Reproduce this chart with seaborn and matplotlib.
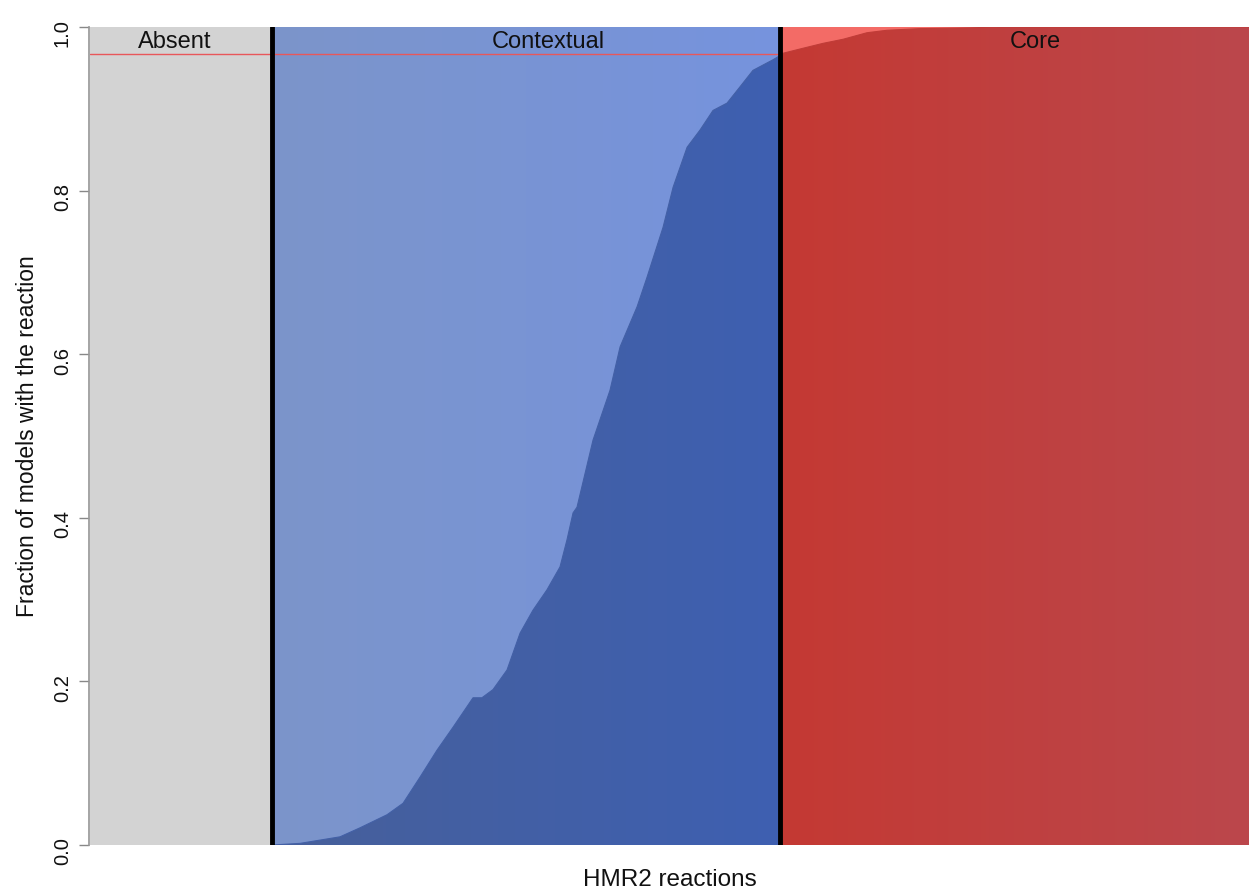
import numpy as np
import pandas as pd
import seaborn as sns
import matplotlib.pyplot as plt
from matplotlib.colors import LinearSegmentedColormap
from matplotlib.patches import Polygon

# reaction counts in each class (HMR2)
n_absent = 1285
n_contextual = 3586
n_core = 3310

# sorted fraction of models containing each reaction
ctx_rank = [0, 198, 480, 621, 812, 925, 1045, 1165, 1278, 1419, 1482, 1560, 1659,
            1751, 1842, 1941, 2033, 2082, 2125, 2153, 2266, 2386, 2457, 2577, 2647,
            2760, 2831, 2930, 3021, 3113, 3212, 3304, 3395, 3537, 3586]
ctx_frac = [0.0, 0.002, 0.010, 0.021, 0.037, 0.051, 0.083, 0.116, 0.144, 0.180, 0.180,
            0.190, 0.214, 0.259, 0.287, 0.312, 0.340, 0.373, 0.406, 0.413, 0.495, 0.556,
            0.609, 0.658, 0.694, 0.755, 0.804, 0.853, 0.874, 0.898, 0.907, 0.927, 0.947,
            0.960, 0.965]
core_rank = [0, 162, 303, 445, 614, 755, 988, 1341, 1553, 3310]
core_frac = [0.967, 0.974, 0.980, 0.985, 0.993, 0.996, 0.998, 0.999, 1.0, 1.0]

threshold = 0.967
region_labels = ["Absent", "Contextual", "Core"]
label_x = [600, 3233, 6671]

sns.set_theme(style="ticks")
plt.rcParams['font.family'] = ['Liberation Sans', 'DejaVu Sans']

total = n_absent + n_contextual + n_core
b1 = n_absent
b2 = n_absent + n_contextual

ctx = pd.DataFrame({"x": np.array(ctx_rank) + b1, "y": ctx_frac})
core = pd.DataFrame({"x": np.array(core_rank) + b2, "y": core_frac})

fig = plt.figure(figsize=(12.49, 8.94), dpi=100)
ax = fig.add_axes([0.072, 0.0548, 0.928, 0.915])


def gradient(x0, x1, y0, y1, c0, c1, clip=None, z=1):
    cmap = LinearSegmentedColormap.from_list("g", [c0, c1])
    g = np.linspace(0, 1, 256).reshape(1, -1)
    im = ax.imshow(g, extent=[x0, x1, y0, y1], cmap=cmap, aspect='auto',
                   origin='lower', zorder=z, interpolation='bilinear')
    if clip is not None:
        im.set_clip_path(clip)
    return im


# backgrounds
ax.axvspan(0, b1, color='#d3d3d3', lw=0, zorder=0)
gradient(b1, b2, 0, 1, '#7c95ca', '#7693de', z=1)
ax.axvspan(b2, total, color='#f36b66', lw=0, zorder=1)

# threshold line
ax.axhline(threshold, color='#e8575a', lw=1.0, zorder=2)

# contextual curve fill
pts = np.vstack([[b1, 0], ctx[["x", "y"]].values, [b2, 0]])
poly = Polygon(pts, closed=True, facecolor='none', edgecolor='none', transform=ax.transData)
ax.add_patch(poly)
gradient(b1, b2, 0, 1, '#47609a', '#3e5fb1', clip=poly, z=3)
sns.lineplot(data=ctx, x="x", y="y", ax=ax, color='#4360a6', lw=0.8, zorder=3)

# core curve fill
pts2 = np.vstack([[b2, 0], core[["x", "y"]].values, [total, 0]])
poly2 = Polygon(pts2, closed=True, facecolor='none', edgecolor='none', transform=ax.transData)
ax.add_patch(poly2)
gradient(b2, total, 0, 1, '#c43933', '#bb474c', clip=poly2, z=3)
sns.lineplot(data=core, x="x", y="y", ax=ax, color='#c03c38', lw=0.8, zorder=3)

# class boundaries
for b in [b1, b2]:
    ax.axvline(b, color='black', lw=3.5, zorder=5)

for lab, lx in zip(region_labels, label_x):
    ax.text(lx, 0.982, lab, ha='center', va='center', fontsize=17, color='#111111', zorder=6)

ax.set_xlim(0, total)
ax.set_ylim(0, 1)
ax.set_xticks([])
ax.set_yticks([0, 0.2, 0.4, 0.6, 0.8, 1.0])
ax.set_yticklabels(["0.0", "0.2", "0.4", "0.6", "0.8", "1.0"])
ax.tick_params(axis='y', length=7, width=1, color='#888888', labelsize=14.5, pad=5,
               labelrotation=90, labelcolor='#111111')
for lab in ax.get_yticklabels():
    lab.set_verticalalignment('center')
for s in ['top', 'right', 'bottom']:
    ax.spines[s].set_visible(False)
ax.spines['left'].set_color('#999999')
ax.spines['left'].set_position(('outward', 1))
ax.set_xlabel("HMR2 reactions", fontsize=17.5, labelpad=17, color='#111111')
ax.set_ylabel("Fraction of models with the reaction", fontsize=16.5, labelpad=10,
              color='#111111')

plt.savefig("out.png", dpi=100)
plt.close()
